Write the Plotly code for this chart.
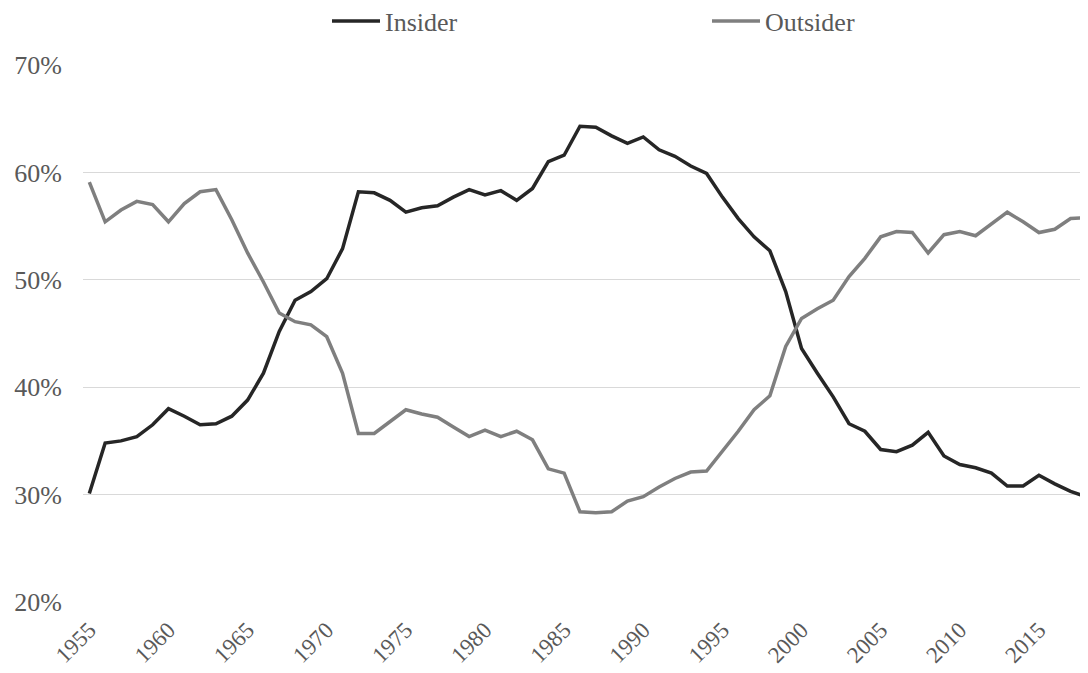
import plotly.graph_objects as go

years = list(range(1955, 2019))

insider = [30.1, 34.8, 35.0, 35.4, 36.5, 38.0, 37.3, 36.5, 36.6, 37.3,
           38.8, 41.3, 45.2, 48.1, 48.9, 50.1, 52.9, 58.2, 58.1, 57.4,
           56.3, 56.7, 56.9, 57.7, 58.4, 57.9, 58.3, 57.4, 58.5, 61.0,
           61.6, 64.3, 64.2, 63.4, 62.7, 63.3, 62.1, 61.5, 60.6, 59.9,
           57.7, 55.7, 54.0, 52.7, 48.9, 43.6, 41.3, 39.1, 36.6, 35.9,
           34.2, 34.0, 34.6, 35.8, 33.6, 32.8, 32.5, 32.0, 30.8, 30.8,
           31.8, 31.0, 30.3, 29.8]

outsider = [59.1, 55.4, 56.5, 57.3, 57.0, 55.4, 57.1, 58.2, 58.4, 55.6,
            52.5, 49.8, 46.9, 46.1, 45.8, 44.7, 41.3, 35.7, 35.7, 36.8,
            37.9, 37.5, 37.2, 36.3, 35.4, 36.0, 35.4, 35.9, 35.1, 32.4,
            32.0, 28.4, 28.3, 28.4, 29.4, 29.8, 30.7, 31.5, 32.1, 32.2,
            34.0, 35.9, 37.9, 39.2, 43.8, 46.4, 47.3, 48.1, 50.3, 52.0,
            54.0, 54.5, 54.4, 52.5, 54.2, 54.5, 54.1, 55.2, 56.3, 55.4,
            54.4, 54.7, 55.7, 55.8]

y_ticks = [20, 30, 40, 50, 60, 70]
y_tick_labels = ["20%", "30%", "40%", "50%", "60%", "70%"]
x_ticks = list(range(1955, 2019, 5))

font_family = "Liberation Serif, Times New Roman, serif"

fig = go.Figure()
fig.add_trace(go.Scatter(x=years, y=insider, mode="lines",
                         name="Insider", line=dict(color="#262626", width=3.5)))
fig.add_trace(go.Scatter(x=years, y=outsider, mode="lines",
                         name="Outsider", line=dict(color="#7f7f7f", width=3.5)))

fig.update_layout(
    width=1080, height=665,
    margin=dict(l=75, r=0, t=57, b=71, autoexpand=False),
    paper_bgcolor="white", plot_bgcolor="white",
    font=dict(family=font_family, size=26, color="#595959"),
    legend=dict(orientation="h", x=(333 - 83 - 6) / 1005, xanchor="left",
                y=1 + 44 / 537, yanchor="middle",
                font=dict(family=font_family, size=26, color="#595959"),
                entrywidth=317, entrywidthmode="pixels",
                itemwidth=48,
                bgcolor="rgba(0,0,0,0)"),
    showlegend=True,
)

fig.update_xaxes(range=[1954.6, 2018.1], tickvals=x_ticks,
                 ticktext=[str(t) for t in x_ticks], tickangle=-45,
                 showgrid=False, zeroline=False, showline=False,
                 ticks="", ticklabelstandoff=9, automargin=False,
                 tickfont=dict(family=font_family, size=23, color="#595959"))
fig.update_yaxes(range=[20, 70], tickvals=y_ticks, ticktext=y_tick_labels,
                 showgrid=True, gridcolor="#d9d9d9", gridwidth=1.2,
                 zeroline=False, showline=False, ticks="",
                 ticklabelstandoff=20, automargin=False,
                 tickfont=dict(family=font_family, size=26, color="#595959"))

fig.write_html("out.html")
